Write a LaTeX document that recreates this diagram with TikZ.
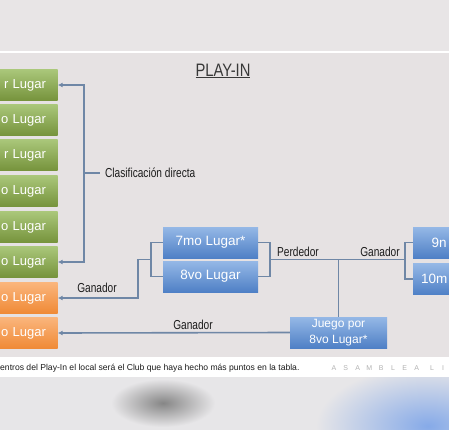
\documentclass[tikz,border=0pt]{standalone}
\usepackage{fontspec}
\setmainfont{Liberation Sans}
\usetikzlibrary{arrows.meta}

\definecolor{banda}{HTML}{E8E5E6}
\definecolor{fondo}{HTML}{E6E2E3}
\definecolor{borroso}{HTML}{E7E6E8}
\definecolor{mancha}{HTML}{86AAE8}
\definecolor{verdeA}{HTML}{AAC77A}
\definecolor{verdeB}{HTML}{76933C}
\definecolor{naranjaA}{HTML}{FAB57C}
\definecolor{naranjaB}{HTML}{F08A36}
\definecolor{azulA}{HTML}{95B8E6}
\definecolor{azulB}{HTML}{4F80C6}
\definecolor{linea}{HTML}{6F87A6}
\definecolor{tinta}{HTML}{1C1C1C}

\tikzset{
	caja/.style = {minimum width=95pt, minimum height=31pt, inner sep=0pt,
		text=white, font=\fontsize{13.5}{15}\selectfont},
	lateral/.style = {text width=72pt, align=right, font=\fontsize{13}{15}\selectfont},
	verde/.style = {caja, lateral, top color=verdeA, bottom color=verdeB},
	naranja/.style = {caja, lateral, top color=naranjaA, bottom color=naranjaB},
	azul/.style = {caja, top color=azulA, bottom color=azulB},
	conector/.style = {line width=1.6pt, draw=linea},
	flecha/.style = {-{Latex[length=5pt,width=5pt]}},
	etiqueta/.style = {font=\fontsize{13}{15}\selectfont, xscale=.78, text=tinta, inner sep=0pt},
	marca/.style = {font=\fontsize{7}{8}\selectfont, text=gray!60, inner sep=0pt}
}

\begin{document}
\begin{tikzpicture}[x=1pt, y=-1pt]
		\useasboundingbox (0,0) rectangle (449,430);
		\clip (0,0) rectangle (449,430);
		
		% fondo de la foto
		\fill [banda] (0,0) rectangle (449,51);
		\fill [white] (0,51) rectangle (449,53.5);
		\fill [fondo] (0,53.5) rectangle (449,357);
		\fill [white] (0,357) rectangle (449,377);
		\fill [borroso] (0,377) rectangle (449,430);
		\begin{scope}
			\clip (0,377) rectangle (449,430);
			\shade [inner color=gray!95, outer color=borroso] (163,403) ellipse (52 and 24);
			\shade [inner color=mancha, outer color=borroso] (428,426) ellipse (112 and 60);
		\end{scope}
		
		\node (titulo) at (223,71) [font=\fontsize{18}{20}\selectfont, xscale=.82, text=black!78] {\underline{PLAY-IN}};
		
		% tabla
		\node (L1) at (10,85) [verde] {r Lugar};
		\node (L2) at (10,120) [verde] {o Lugar};
		\node (L3) at (10,155) [verde] {r Lugar};
		\node (L4) at (10,191) [verde] {o Lugar};
		\node (L5) at (10,227) [verde] {o Lugar};
		\node (L6) at (10,262) [verde] {o Lugar};
		\node (L7) at (10,298) [naranja] {o Lugar};
		\node (L8) at (10,333) [naranja] {o Lugar};
		
		% partidos
		\node (P7) at (210.5,242.5) [azul] {7mo Lugar*};
		\node (P8) at (210.5,276.5) [azul] {8vo Lugar};
		\node (P9) at (460.5,242.5) [azul, text width=58pt, align=left] {9n};
		\node (P10) at (460.5,279) [azul, text width=79pt, align=left] {10m};
		\node (J8) at (338.5,332.5) [azul, minimum width=97pt, align=center,
			font=\fontsize{12}{16}\selectfont] {Juego por\\8vo Lugar*};
		
		% clasificacion directa
		\coordinate (cd) at (84,173);
		\node (clas) at (105,173) [etiqueta, anchor=west] {Clasificación directa};
		\draw [conector, flecha] (cd) |- (L1.east);
		\draw [conector, flecha] (cd) |- (L6.east);
		\draw [conector] (cd) -- ++(16,0);
		
		% 7mo vs 8vo
		\coordinate (g7) at (151,259.5);
		\coordinate (g7b) at (138,259.5);
		\coordinate (p7) at (270,259.5);
		\coordinate (m) at (338.5,259.5);
		\draw [conector] (P7.west) -| (g7) |- (P8.west);
		\draw [conector, flecha] (g7) -- (g7b) |- (L7.east);
		\node (gan1) at (97,288) [etiqueta] {Ganador};
		\draw [conector] (P7.east) -| (p7) |- (P8.east);
		\node (perd) at (298,252) [etiqueta] {Perdedor};
		
		% 9no vs 10mo
		\coordinate (g9) at (405,259.5);
		\draw [conector] (P9.west) -| (g9) |- (P10.west);
		\draw [conector] (p7) -- (g9);
		\node (gan2) at (380,252) [etiqueta] {Ganador};
		\draw [conector] (m) -- (J8.north);
		
		% juego por 8vo
		\draw [conector, flecha] (J8.west) -- (L8.east);
		\node (gan3) at (193,325) [etiqueta] {Ganador};
		
		% pie
		\node (nota) at (0,368) [anchor=west, inner sep=0pt, text=tinta,
			font=\fontsize{8.6}{10}\selectfont] {entros del Play-In el local será el Club que haya hecho más puntos en la tabla.};
		\foreach \letra [count=\i] in {A,S,A,M,B,L,E,A}
			\node (as\i) at (334+11.8*\i-11.8,368) [marca] {\letra};
		\node (asL) at (432,368) [marca] {L};
		\node (asI) at (443,368) [marca] {I};
\end{tikzpicture}
\end{document}
